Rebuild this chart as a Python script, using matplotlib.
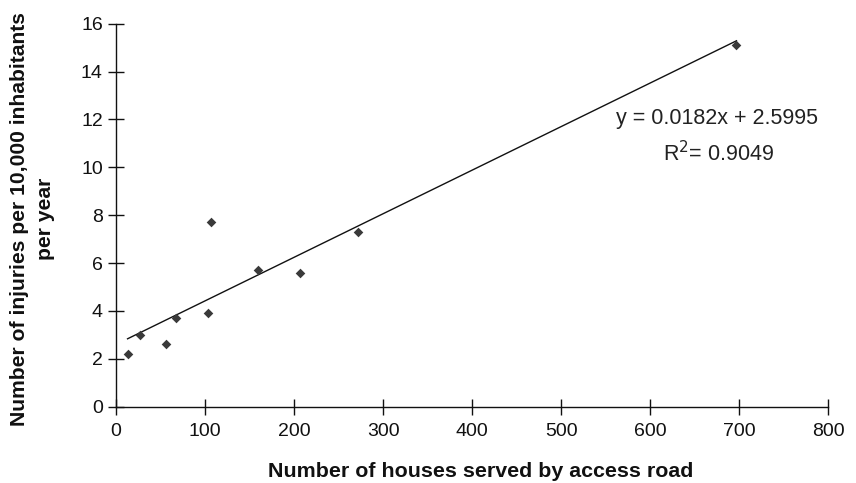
import matplotlib
matplotlib.use("Agg")
import matplotlib.pyplot as plt
import numpy as np

plt.rcParams['font.family'] = ['Liberation Sans', 'DejaVu Sans']

# Houses served by the access road vs. injury rate
houses = [13, 27, 56, 67, 103, 107, 159, 207, 272, 697]
injuries = [2.2, 3.0, 2.6, 3.7, 3.9, 7.7, 5.7, 5.6, 7.3, 15.1]

# Linear trend line
slope = 0.0182
intercept = 2.5995
r_squared = 0.9049

x_ticks = [0, 100, 200, 300, 400, 500, 600, 700, 800]
y_ticks = [0, 2, 4, 6, 8, 10, 12, 14, 16]

fig = plt.figure(figsize=(8.56, 4.83), dpi=100)
ax = fig.add_axes([0.1355, 0.158, 0.832, 0.793])

ax.scatter(houses, injuries, marker='D', s=24, color='#3a3a3a', zorder=3,
           linewidths=0)

xs = np.array([min(houses), max(houses)])
ax.plot(xs, slope * xs + intercept, color='#111111', lw=1.0, zorder=2)

ax.set_xlim(0, 800)
ax.set_ylim(0, 16)
ax.set_xticks(x_ticks)
ax.set_yticks(y_ticks)
ax.tick_params(direction='inout', length=11, width=1, labelsize=14,
               colors='#111111')
ax.tick_params(axis='x', pad=6)
ax.tick_params(axis='y', pad=4)
for s in ('top', 'right'):
    ax.spines[s].set_visible(False)
for s in ('left', 'bottom'):
    ax.spines[s].set_linewidth(1.0)
    ax.spines[s].set_color('#111111')

ax.set_xlabel('Number of houses served by access road', fontsize=15.4,
              fontweight='bold', color='#111111')
ax.xaxis.set_label_coords(0.512, -0.145)
ax.set_ylabel('Number of injuries per 10,000 inhabitants\nper year', fontsize=15.2,
              fontweight='bold', linespacing=1.5, color='#111111')
ax.yaxis.set_label_coords(-0.085, 0.49)

ax.text(675, 12.05, f'y = {slope}x + {intercept}', fontsize=15.5,
        ha='center', va='center', color='#222222')
ax.text(677, 10.58, f'R$^2$= {r_squared}', fontsize=15.5,
        ha='center', va='center', color='#222222')

fig.savefig('out.png', dpi=100)
